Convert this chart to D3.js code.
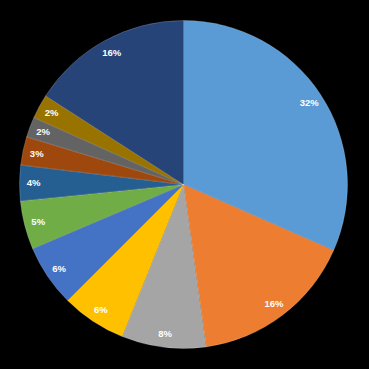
<!DOCTYPE html>
<html lang="en">
<head>
  <meta charset="UTF-8">
  <title>Pie Chart</title>
  <style>
    body { margin: 0; background: #000; }
    #chart { width: 369px; height: 369px; }
    .label { font-family: "Liberation Sans", Arial, sans-serif; font-weight: bold; font-size: 9.5px; fill: #fff; }
  </style>
</head>
<body>
<div id="chart"></div>
<script src="https://d3js.org/d3.v7.min.js"></script>
<script>
  // Slice data, clockwise from 12 o'clock
  const categories = ["A", "B", "C", "D", "E", "F", "G", "H", "I", "J", "K"];
  const values = [31.6, 16.2, 8.3, 6.4, 6.1, 4.8, 3.5, 2.8, 2.0, 2.4, 15.9];
  const labels = ["32%", "16%", "8%", "6%", "6%", "5%", "4%", "3%", "2%", "2%", "16%"];
  const colors = ["#5b9bd5", "#ed7d31", "#a5a5a5", "#ffc000", "#4472c4", "#70ad47",
                  "#255e91", "#9e480e", "#636363", "#997300", "#264478"];

  const width = 369, height = 369;
  const radius = 164;

  const svg = d3.select("#chart")
    .append("svg")
    .attr("width", width)
    .attr("height", height)
    .append("g")
    .attr("transform", "translate(183.5,184.5)");

  const data = categories.map((c, i) => ({ name: c, value: values[i], label: labels[i] }));

  const pie = d3.pie().value(d => d.value).sort(null);
  const arc = d3.arc().innerRadius(0).outerRadius(radius);
  const labelArc = d3.arc().innerRadius(150).outerRadius(150);

  const arcs = pie(data);

  svg.selectAll("path")
    .data(arcs)
    .enter().append("path")
    .attr("d", arc)
    .style("fill", (d, i) => colors[i])
    .style("stroke", "rgba(255,255,255,0.35)")
    .style("stroke-width", 0.5);

  svg.selectAll("text")
    .data(arcs)
    .enter().append("text")
    .attr("class", "label")
    .attr("transform", d => "translate(" + labelArc.centroid(d) + ")")
    .attr("text-anchor", "middle")
    .attr("dy", "0.35em")
    .text(d => d.data.label);
</script>
</body>
</html>
